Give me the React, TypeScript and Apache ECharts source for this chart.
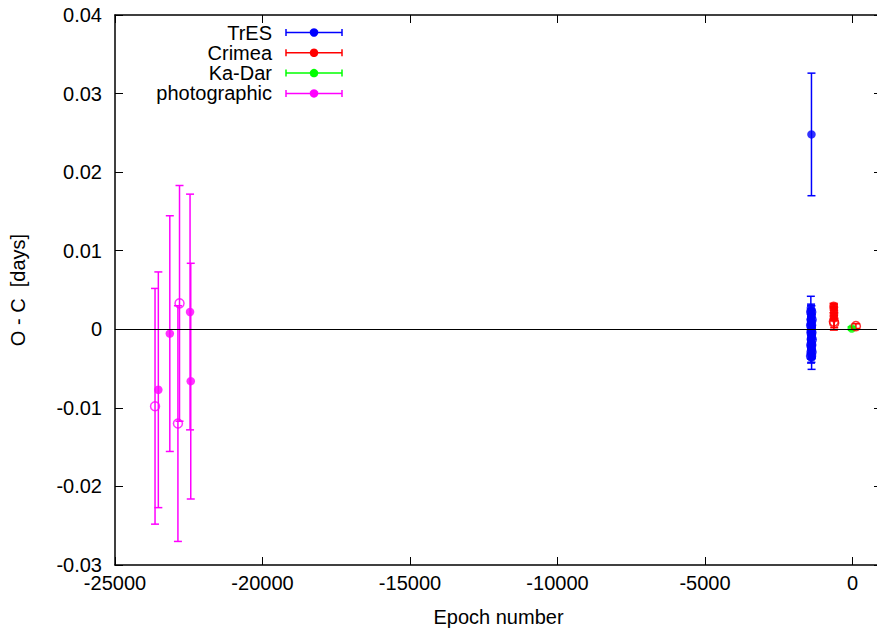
import React, { useEffect, useRef } from "react";
import * as echarts from "echarts";

const FONT = '"Liberation Sans", Arial, Helvetica, sans-serif';

// [epoch, O-C (days), error (days)]
const tresFilled: number[][] = [
  [-1412, 0.0027, 0.0015],
  [-1405, 0.0024, 0.0008],
  [-1398, 0.0021, 0.0009],
  [-1391, 0.0019, 0.0007],
  [-1384, 0.0016, 0.0008],
  [-1410, 0.0013, 0.0006],
  [-1402, 0.001, 0.0007],
  [-1395, 0.0007, 0.0008],
  [-1388, 0.0004, 0.0006],
  [-1381, 0.0002, 0.0009],
  [-1408, -0.0001, 0.0007],
  [-1400, -0.0003, 0.0008],
  [-1393, -0.0006, 0.0006],
  [-1386, -0.0008, 0.0009],
  [-1379, -0.001, 0.0007],
  [-1406, -0.0012, 0.0008],
  [-1397, -0.0015, 0.0007],
  [-1390, -0.0017, 0.0009],
  [-1383, -0.0019, 0.0006],
  [-1404, -0.0022, 0.0008],
  [-1396, -0.0024, 0.0007],
  [-1389, -0.0026, 0.0009],
  [-1382, -0.0028, 0.0008],
  [-1401, -0.0031, 0.0007],
  [-1394, -0.0033, 0.0009],
  [-1387, -0.0036, 0.0015],
  [-1391, 0.0248, 0.0078],
];
const tresOpen: number[][] = [
  [-1399, 0.0022, 0.0008],
  [-1385, 0.0012, 0.0007],
  [-1403, 0.0005, 0.0008],
  [-1392, -0.0004, 0.0007],
  [-1380, -0.0013, 0.0008],
  [-1397, -0.002, 0.0007],
  [-1388, -0.0029, 0.0008],
  [-1405, -0.0034, 0.0009],
];
const crimeaFilled: number[][] = [
  [-640, 0.003, 0.0003],
  [-628, 0.0028, 0.0004],
  [-634, 0.0025, 0.0004],
  [-622, 0.0021, 0.0003],
  [-638, 0.0017, 0.0004],
  [-626, 0.0014, 0.0003],
];
const crimeaOpen: number[][] = [
  [-632, 0.001, 0.0011],
  [-620, 0.0008, 0.0006],
  [115, 0.0004, 0.0003],
];
const kadarFilled: number[][] = [[-25, 0.0001, 0.0002]];
const photoFilled: number[][] = [
  [-23531, -0.0077, 0.015],
  [-23142, -0.00055, 0.015],
  [-22456, 0.0022, 0.015],
  [-22432, -0.0066, 0.015],
];
const photoOpen: number[][] = [
  [-23643, -0.0098, 0.015],
  [-22813, 0.0033, 0.015],
  [-22867, -0.012, 0.015],
];

const legendNames = ["TrES", "Crimea", "Ka-Dar", "photographic"];
const legendColors = ["#0000ff", "#ff0000", "#00ff00", "#ff00ff"];

const X_MIN = -25000;
const X_MAX = 1000;
const X_TICKS = [-25000, -20000, -15000, -10000, -5000, 0];
const Y_MIN = -0.03;
const Y_MAX = 0.04;
const Y_TICKS = [-0.03, -0.02, -0.01, 0, 0.01, 0.02, 0.03, 0.04];

const LW = 1.5;

function errorBarSeries(data: number[][], color: string) {
  return {
    type: "custom",
    silent: true,
    data,
    encode: { x: 0, y: 1 },
    itemStyle: { color },
    renderItem: (params: any, api: any) => {
      const x = api.value(0);
      const y = api.value(1);
      const e = api.value(2);
      const top = api.coord([x, y + e]);
      const bot = api.coord([x, y - e]);
      const style = { stroke: color, fill: "none", lineWidth: LW };
      return {
        type: "group",
        children: [
          { type: "line", shape: { x1: top[0], y1: top[1], x2: bot[0], y2: bot[1] }, style },
          { type: "line", shape: { x1: top[0] - 4, y1: top[1], x2: top[0] + 4, y2: top[1] }, style },
          { type: "line", shape: { x1: bot[0] - 4, y1: bot[1], x2: bot[0] + 4, y2: bot[1] }, style },
        ],
      };
    },
    z: 2,
  };
}

function pointSeries(data: number[][], color: string, filled: boolean) {
  return {
    type: "scatter",
    silent: true,
    data: data.map((d) => [d[0], d[1]]),
    symbol: "circle",
    symbolSize: filled ? 8.5 : 9,
    itemStyle: filled
      ? { color, borderWidth: 0 }
      : { color: "rgba(0,0,0,0)", borderColor: color, borderWidth: LW },
    z: 3,
  };
}

export default function App() {
  const ref = useRef<HTMLDivElement>(null);

  useEffect(() => {
    if (!ref.current) return;
    const chart = echarts.init(ref.current, undefined, { renderer: "svg" });

    const legendGraphics: any[] = [];
    legendNames.forEach((name, i) => {
      const y = 32.5 + i * 20.3;
      const c = legendColors[i];
      const st = { stroke: c, lineWidth: LW };
      legendGraphics.push(
        {
          type: "text",
          style: { text: name, x: 272, y, align: "right", verticalAlign: "middle", font: `20px ${FONT}`, fill: "#000" },
        },
        { type: "line", shape: { x1: 286, y1: y, x2: 342, y2: y }, style: st },
        { type: "line", shape: { x1: 286, y1: y - 3.5, x2: 286, y2: y + 3.5 }, style: st },
        { type: "line", shape: { x1: 342, y1: y - 3.5, x2: 342, y2: y + 3.5 }, style: st },
        { type: "circle", shape: { cx: 314, cy: y, r: 4.25 }, style: { fill: c } }
      );
    });

    const axisLine = { show: true, onZero: false, lineStyle: { color: "#000", width: 1.5 } };
    const xTick = { show: true, inside: true, length: 8, customValues: X_TICKS, lineStyle: { color: "#000", width: 1 } };
    const yTick = { show: true, inside: true, length: 8, customValues: Y_TICKS, lineStyle: { color: "#000", width: 1 } };
    const yFmt = (v: number) => {
      const r = Math.round(v * 100) / 100;
      return r === 0 ? "0" : String(r);
    };

    chart.setOption({
      animation: false,
      backgroundColor: "#fff",
      grid: { left: 115, top: 15, width: 767, height: 550, containLabel: false, outerBoundsMode: "none" },
      xAxis: [
        {
          type: "value",
          min: X_MIN,
          max: X_MAX,
          position: "bottom",
          name: "Epoch number",
          nameLocation: "middle",
          nameGap: 42,
          nameTextStyle: { fontFamily: FONT, fontSize: 20, color: "#000" },
          axisLine,
          axisTick: xTick,
          splitLine: { show: false },
          axisLabel: {
            fontFamily: FONT,
            fontSize: 20,
            color: "#000",
            margin: 8,
            customValues: X_TICKS,
            formatter: (v: number) => String(v),
          },
        },
        {
          type: "value",
          min: X_MIN,
          max: X_MAX,
          position: "top",
          axisLine,
          axisTick: xTick,
          splitLine: { show: false },
          axisLabel: { show: false },
        },
      ],
      yAxis: [
        {
          type: "value",
          min: Y_MIN,
          max: Y_MAX,
          position: "left",
          name: "O - C  [days]",
          nameLocation: "middle",
          nameGap: 87,
          nameTextStyle: { fontFamily: FONT, fontSize: 20, color: "#000" },
          axisLine,
          axisTick: yTick,
          splitLine: { show: false },
          axisLabel: {
            fontFamily: FONT,
            fontSize: 20,
            color: "#000",
            margin: 13,
            customValues: Y_TICKS,
            formatter: yFmt,
          },
        },
        {
          type: "value",
          min: Y_MIN,
          max: Y_MAX,
          position: "right",
          axisLine,
          axisTick: yTick,
          splitLine: { show: false },
          axisLabel: { show: false },
        },
      ],
      graphic: legendGraphics,
      series: [
        {
          type: "scatter",
          silent: true,
          data: [],
          markLine: {
            silent: true,
            symbol: "none",
            label: { show: false },
            lineStyle: { color: "#000", width: 1, type: "solid" },
            data: [{ yAxis: 0 }],
          },
          z: 1,
        },
        errorBarSeries(photoFilled, "#ff00ff"),
        errorBarSeries(photoOpen, "#ff00ff"),
        pointSeries(photoFilled, "#ff00ff", true),
        pointSeries(photoOpen, "#ff00ff", false),
        errorBarSeries(tresFilled, "#0000ff"),
        errorBarSeries(tresOpen, "#0000ff"),
        pointSeries(tresFilled, "#0000ff", true),
        pointSeries(tresOpen, "#0000ff", false),
        errorBarSeries(crimeaFilled, "#ff0000"),
        pointSeries(crimeaFilled, "#ff0000", true),
        errorBarSeries(kadarFilled, "#00ff00"),
        pointSeries(kadarFilled, "#00ff00", true),
        errorBarSeries(crimeaOpen, "#ff0000"),
        pointSeries(crimeaOpen, "#ff0000", false),
      ],
    });

    return () => chart.dispose();
  }, []);

  return (
    <div style={{ position: "fixed", left: 0, top: 0, width: 877, height: 633, overflow: "hidden", background: "#fff" }}>
      <div ref={ref} style={{ width: 882, height: 633 }} />
    </div>
  );
}
